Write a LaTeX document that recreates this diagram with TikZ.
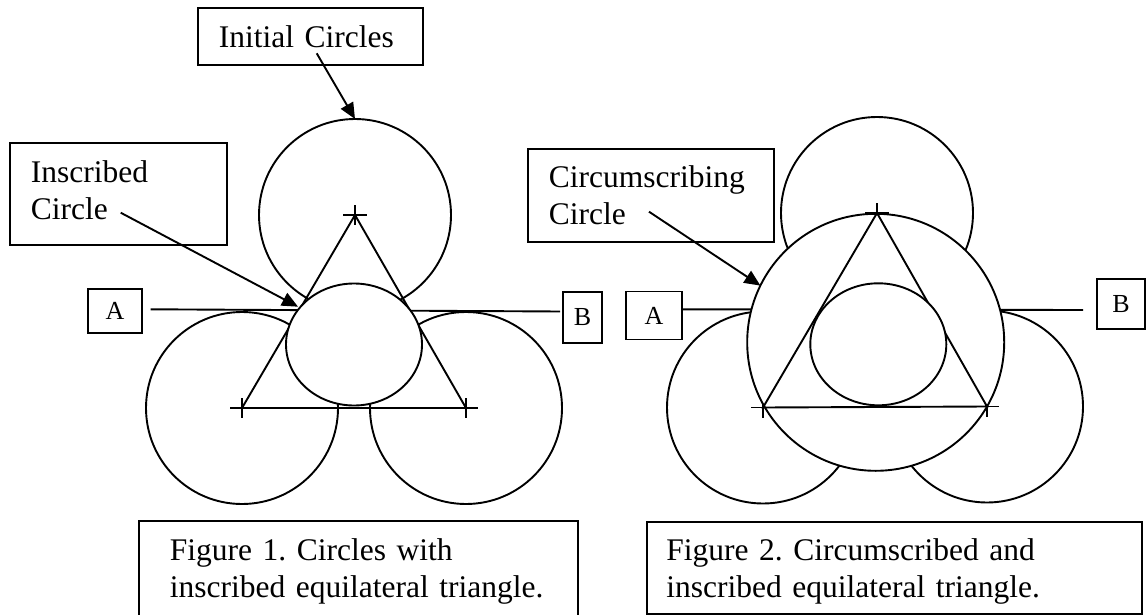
\documentclass[tikz,border=0pt]{standalone}
\usepackage{fontspec}
\setmainfont{Liberation Serif}
\usetikzlibrary{arrows.meta}
\frenchspacing

\begin{document}
\begin{tikzpicture}[x=1pt,y=-1pt,line width=1.9pt,>={Triangle[length=16pt,width=14pt]},
    txtbox/.style={draw,anchor=north west,align=left,inner ysep=0pt,font=\fontsize{31.5}{36.5}\selectfont},
    letbox/.style={draw,inner sep=0pt,font=\fontsize{26}{30}\selectfont}]
    \clip (0,0) rectangle (1148,615);

    % vertices = centres of the initial circles
    \coordinate (t_1) at (355,215);
    \coordinate (l_1) at (242,408);
    \coordinate (r_1) at (466,408);
    \coordinate (o_1) at (354,344.5);
    \coordinate (t_2) at (877,213);
    \coordinate (l_2) at (763,407.5);
    \coordinate (r_2) at (987,406.5);
    \coordinate (c_2) at (875.7,342.3);
    \coordinate (o_2) at (878.3,344.3);

    % figure 1
    \foreach \v in {t_1,l_1,r_1}
      \draw (\v) circle[radius=96pt];
    \coordinate (ln_1a) at (150.7,309.3);
    \coordinate (ln_1b) at (560,311.5);
    \draw (ln_1a) -- (ln_1b);
    \draw (t_1) -- (l_1) -- (r_1) -- cycle;
    \foreach \v in {t_1,l_1,r_1}
      \draw (\v) +(-12,0) -- +(12,0) +(0,-10) -- +(0,10);
    \draw[fill=white] (o_1) ellipse[x radius=68pt,y radius=61pt];

    % figure 2
    \foreach \v in {t_2,l_2,r_2}
      \draw (\v) circle[radius=96pt];
    \coordinate (ln_2a) at (681.7,309.3);
    \coordinate (ln_2b) at (1083,310);
    \draw (ln_2a) -- (ln_2b);
    \foreach \v in {t_2,l_2,r_2}
      \draw (\v) +(-12,0) -- +(12,0) +(0,-10) -- +(0,10);
    \draw[fill=white] (c_2) circle[radius=128.5pt];
    \draw (t_2) -- (l_2) -- (r_2) -- cycle;
    \draw[fill=white] (o_2) ellipse[x radius=68pt,y radius=61pt];

    % labels
    \node[txtbox,inner xsep=21pt,text width=183pt,text height=40pt,text depth=17pt] (init) at (197,7) {Initial Circles};
    \node[txtbox,inner xsep=21pt,text width=175pt,text height=39.7pt,text depth=62.3pt] (insc) at (9,142) {Inscribed\\Circle};
    \node[txtbox,inner xsep=21pt,text width=204pt,text height=38.7pt,text depth=54.3pt] (circ) at (527,148) {Circumscribing\\Circle};
    \node[txtbox,inner xsep=31pt,text width=377pt,text height=40pt,text depth=80pt] (fig_1) at (138,520) {Figure 1. Circles with\\inscribed equilateral triangle.};
    \node[txtbox,inner xsep=19.5pt,text width=456pt,text height=39.3pt,text depth=53.3pt] (fig_2) at (646,520.7) {Figure 2. Circumscribed and\\inscribed equilateral triangle.};

    \node[letbox,minimum width=54pt,minimum height=44pt] (a_1) at (115,311) {A};
    \node[letbox,minimum width=39pt,minimum height=51pt] (b_1) at (582.5,317.5) {B};
    \node[letbox,minimum width=56pt,minimum height=48pt] (a_2) at (654,315.5) {A};
    \node[letbox,minimum width=48pt,minimum height=50pt] (b_2) at (1121,304) {B};

    % pointers
    \coordinate (init_s) at (316.7,53.3);
    \coordinate (init_e) at (355,119);
    \coordinate (insc_s) at (120.7,212.7);
    \coordinate (insc_e) at (298,306.7);
    \coordinate (circ_s) at (649,211.7);
    \coordinate (circ_e) at (760.4,285.6);
    \draw[->] (init_s) -- (init_e);
    \draw[->] (insc_s) -- (insc_e);
    \draw[->] (circ_s) -- (circ_e);
\end{tikzpicture}
\end{document}
